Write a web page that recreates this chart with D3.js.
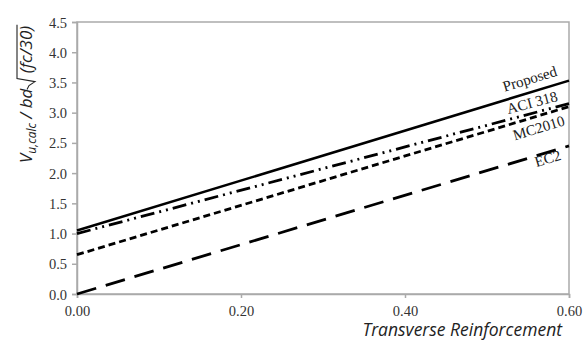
<!DOCTYPE html>
<html>
<head>
<meta charset="utf-8">
<script src="https://cdn.jsdelivr.net/npm/d3@7"></script>
<style>
    body { margin: 0; background: #fff; }
    .tick text { font-family: "Liberation Serif", "DejaVu Serif", serif; font-size: 14.5px; fill: #333; }
    .series-label { font-family: "Liberation Serif", serif; font-size: 15px; fill: #222; }
    .axis-title { font-family: "Open Sans", "Noto Sans", sans-serif; font-style: italic; fill: #222; }
</style>
</head>
<body>
<svg id="chart"></svg>
<script>
const xTicks = [0, 0.2, 0.4, 0.6];
const yTicks = [0, 0.5, 1.0, 1.5, 2.0, 2.5, 3.0, 3.5, 4.0, 4.5];
const seriesNames = ['Proposed', 'ACI 318', 'MC2010', 'EC2'];
const startValues = [1.05, 1.0, 0.65, 0.0];
const endValues = [3.53, 3.15, 3.1, 2.45];

function drawChart() {
    const width = 587;
    const height = 347;
    const plot = {left: 77, right: 569, top: 22, bottom: 294};

    const svg = d3.select('#chart')
        .attr('width', width)
        .attr('height', height);

    const scales = {
        x: d3.scaleLinear().domain([0, 0.6]).range([plot.left, plot.right]),
        y: d3.scaleLinear().domain([0, 4.5]).range([plot.bottom, plot.top])
    };

    // frame
    svg.append('rect')
        .attr('x', plot.left)
        .attr('y', plot.top)
        .attr('width', plot.right - plot.left)
        .attr('height', plot.bottom - plot.top)
        .attr('fill', 'none')
        .attr('stroke', '#aaa')
        .attr('stroke-width', 1.5);

    const axisX = d3.axisBottom(scales.x)
        .tickValues(xTicks)
        .tickFormat(d3.format('.2f'))
        .tickSize(4)
        .tickPadding(3);
    const axisY = d3.axisLeft(scales.y)
        .tickValues(yTicks)
        .tickFormat(d3.format('.1f'))
        .tickSize(5)
        .tickPadding(5);

    const gx = svg.append('g')
        .attr('transform', `translate(0,${plot.bottom})`)
        .call(axisX);
    const gy = svg.append('g')
        .attr('transform', `translate(${plot.left},0)`)
        .call(axisY);
    [gx, gy].forEach(g => {
        g.select('.domain').attr('stroke', '#aaa').attr('stroke-width', 1.5);
        g.selectAll('.tick line').attr('stroke', '#aaa').attr('stroke-width', 1.5);
    });
    gx.selectAll('.tick text').attr('dy', '1em');
    gy.selectAll('.tick text').attr('dy', '0.35em');

    // series
    const dashes = ['none', '14,5,2,5,2,5', '7,4', '20,10'];
    const widths = [2.6, 2.8, 2.8, 2.8];
    const line = d3.line()
        .x(d => scales.x(d[0]))
        .y(d => scales.y(d[1]));
    const series = seriesNames.map((name, i) => ({
        name: name,
        points: [[0, startValues[i]], [0.6, endValues[i]]]
    }));

    svg.append('g')
        .selectAll('path.series')
        .data(series)
        .join('path')
        .classed('series', true)
        .attr('d', s => line(s.points))
        .attr('fill', 'none')
        .attr('stroke', '#000')
        .attr('stroke-width', (s, i) => widths[i])
        .attr('stroke-dasharray', (s, i) => dashes[i]);

    // labels beside line ends
    const labelAt = [0.552, 0.555, 0.563, 0.574];
    const labelShift = [-14, -11, 12, 6];
    svg.append('g')
        .selectAll('text.series-label')
        .data(series)
        .join('text')
        .classed('series-label', true)
        .attr('text-anchor', 'middle')
        .attr('dy', '0.35em')
        .attr('transform', (s, i) => {
            const xv = labelAt[i];
            const yv = s.points[0][1] + (s.points[1][1] - s.points[0][1]) * xv / 0.6;
            const px = scales.x(xv);
            const py = scales.y(yv) + labelShift[i];
            const angle = Math.atan2(scales.y(s.points[1][1]) - scales.y(s.points[0][1]),
                scales.x(0.6) - scales.x(0)) * 180 / Math.PI;
            return `translate(${px},${py}) rotate(${angle})`;
        })
        .text(s => s.name);

    // x title
    svg.append('text')
        .classed('axis-title', true)
        .attr('x', 562)
        .attr('y', 336)
        .attr('text-anchor', 'end')
        .style('font-size', '17.5px')
        .text('Transverse Reinforcement');

    // y title with radical
    const yTitle = svg.append('g')
        .attr('transform', 'translate(32,163) rotate(-90)');
    const t = yTitle.append('text')
        .classed('axis-title', true)
        .style('font-size', '17px');
    t.append('tspan').text('V');
    t.append('tspan').attr('dy', 4).style('font-size', '12px').text('u,calc');
    t.append('tspan').attr('dy', -4).text(' / bd ');
    t.append('tspan').attr('dx', 11).text('(fc/30)');

    const startRoot = t.node().getSubStringLength(0, 12) + 11;
    const endRoot = t.node().getComputedTextLength() + 11;
    yTitle.append('path')
        .attr('d', `M${startRoot - 12},-5 L${startRoot - 8},-3 L${startRoot - 4},3 L${startRoot - 1},-15 L${endRoot + 1},-15`)
        .attr('fill', 'none')
        .attr('stroke', '#222')
        .attr('stroke-width', 1.1);
}

drawChart();
</script>
</body>
</html>
